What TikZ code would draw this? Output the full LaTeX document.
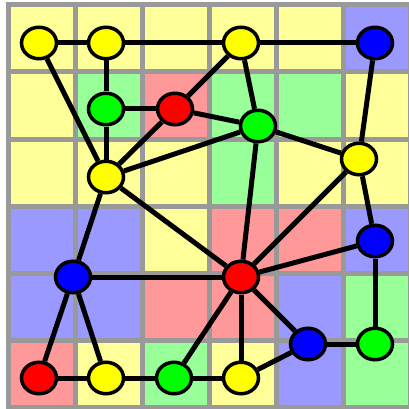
\documentclass[tikz,border=0pt]{standalone}
\usetikzlibrary{shapes.geometric}
\definecolor{cy}{HTML}{FFFF99}
\definecolor{cg}{HTML}{99FF99}
\definecolor{cr}{HTML}{FF9999}
\definecolor{cb}{HTML}{9999FF}
\definecolor{gridgray}{HTML}{999999}
\tikzset{
  vtx/.style={ellipse, draw=black, line width=3.5pt, minimum width=35pt, minimum height=31.5pt, inner sep=0pt},
  vy/.style={vtx, fill={rgb,255:red,255;green,255;blue,0}},
  vg/.style={vtx, fill={rgb,255:red,0;green,255;blue,0}},
  vr/.style={vtx, fill={rgb,255:red,255;green,0;blue,0}},
  vb/.style={vtx, fill={rgb,255:red,0;green,0;blue,255}},
  edge/.style={line width=5pt, black},
}
\begin{document}
\begin{tikzpicture}[x=1pt,y=-1pt]
\useasboundingbox (0,0) rectangle (409,409);
\fill[white] (0,0) rectangle (409,409);
% cells: rows top to bottom
\foreach \col [count=\c from 0] in {cy,cy,cy,cy,cy,cb}{\fill[\col] (8+67*\c,5) rectangle (8+67*\c+67,5+67);}
\foreach \col [count=\c from 0] in {cy,cg,cr,cg,cg,cy}{\fill[\col] (8+67*\c,72) rectangle (8+67*\c+67,72+67);}
\foreach \col [count=\c from 0] in {cy,cy,cy,cg,cy,cy}{\fill[\col] (8+67*\c,139) rectangle (8+67*\c+67,139+67);}
\foreach \col [count=\c from 0] in {cb,cb,cy,cr,cr,cb}{\fill[\col] (8+67*\c,206) rectangle (8+67*\c+67,206+67);}
\foreach \col [count=\c from 0] in {cb,cb,cr,cr,cb,cg}{\fill[\col] (8+67*\c,273) rectangle (8+67*\c+67,273+67);}
\foreach \col [count=\c from 0] in {cr,cy,cg,cy,cb,cg}{\fill[\col] (8+67*\c,340) rectangle (8+67*\c+67,340+67);}
% grid lines
\foreach \k in {0,...,6}{
  \draw[gridgray, line width=5pt] (8+67*\k,2.5) -- (8+67*\k,409);
  \draw[gridgray, line width=5pt] (5.5,5+67*\k) -- (409,5+67*\k);
}
% nodes
\node[vy] (A) at (39,43) {};
\node[vy] (B) at (106,43) {};
\node[vy] (C) at (241,43) {};
\node[vb] (D) at (375,43) {};
\node[vg] (E) at (106,109) {};
\node[vr] (F) at (175,109) {};
\node[vg] (G) at (258,126) {};
\node[vy] (H) at (359,159) {};
\node[vy] (I) at (106,177) {};
\node[vb] (J) at (73,277) {};
\node[vr] (K) at (241,277) {};
\node[vb] (L) at (375,241) {};
\node[vb] (M) at (308,344) {};
\node[vg] (N) at (375,344) {};
\node[vr] (O) at (39,378) {};
\node[vy] (P) at (106,378) {};
\node[vg] (Q) at (174,378) {};
\node[vy] (R) at (241,378) {};
% edges
\foreach \a/\b in {A/B,B/C,C/D,A/I,B/E,E/F,E/I,F/I,F/C,F/G,C/G,G/I,G/H,G/K,D/H,H/K,H/L,I/K,I/J,J/K,J/O,J/P,O/P,P/Q,Q/R,Q/K,K/R,K/L,K/M,M/R,M/N,L/N}
  \draw[edge] (\a) -- (\b);
\end{tikzpicture}
\end{document}
